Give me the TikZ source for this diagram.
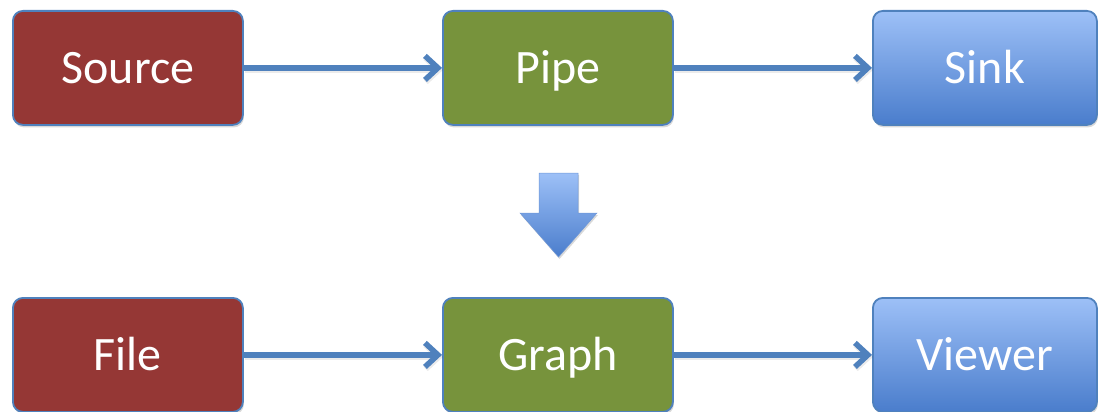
\documentclass[tikz,border=0pt]{standalone}
\usepackage{fontspec}
\setmainfont{Carlito}
\usetikzlibrary{arrows.meta,shadows}
\definecolor{redbox}{HTML}{953735}
\definecolor{greenbox}{HTML}{77933C}
\definecolor{bluetop}{HTML}{9DC0F7}
\definecolor{bluebot}{HTML}{4A7DCC}
\definecolor{edgeblue}{HTML}{4F81BD}
\tikzset{
  box/.style={draw=edgeblue, line width=1.8pt, rounded corners=10pt, minimum width=230pt, minimum height=114pt, anchor=north west, text=white, font=\fontsize{48}{54}\selectfont, inner sep=0pt, text height=31pt, text depth=0pt, drop shadow={shadow xshift=1pt, shadow yshift=-2.5pt, opacity=0.3}},
  redb/.style={box, fill=redbox},
  greenb/.style={box, fill=greenbox},
  blueb/.style={box, top color=bluetop, bottom color=bluebot},
  conn/.style={draw=edgeblue, line width=5.5pt, -{Straight Barb[length=13pt,width=24pt,line width=5.5pt]}},
  connshadow/.style={draw=black, opacity=0.08, line width=6pt, -{Straight Barb[length=13pt,width=24pt,line width=6pt]}}
}
\begin{document}
\begin{tikzpicture}[x=1pt,y=-1pt]
\useasboundingbox (0,0) rectangle (1098,412);
\node[redb] (source) at (12,10) {Source};
\node[greenb] (pipe) at (442,10) {Pipe};
\node[blueb, minimum width=224pt] (sink) at (872,10) {Sink};
\node[redb] (file) at (12,297) {File};
\node[greenb] (graph) at (442,297) {Graph};
\node[blueb, minimum width=224pt] (viewer) at (872,297) {Viewer};
\foreach \a/\b in {source/pipe, pipe/sink, file/graph, graph/viewer}{
  \draw[connshadow, transform canvas={xshift=1pt, yshift=-2pt}] (\a) -- (\b);
  \draw[conn] (\a) -- (\b);
}
\path[top color=bluetop, bottom color=bluebot, draw=bluebot!80, line width=0.5pt, drop shadow={shadow xshift=1pt, shadow yshift=-2pt, opacity=0.3}]
  (539,173) -- (578,173) -- (578,213) -- (597,213) -- (558.5,257) -- (520,213) -- (539,213) -- cycle;
\end{tikzpicture}
\end{document}
